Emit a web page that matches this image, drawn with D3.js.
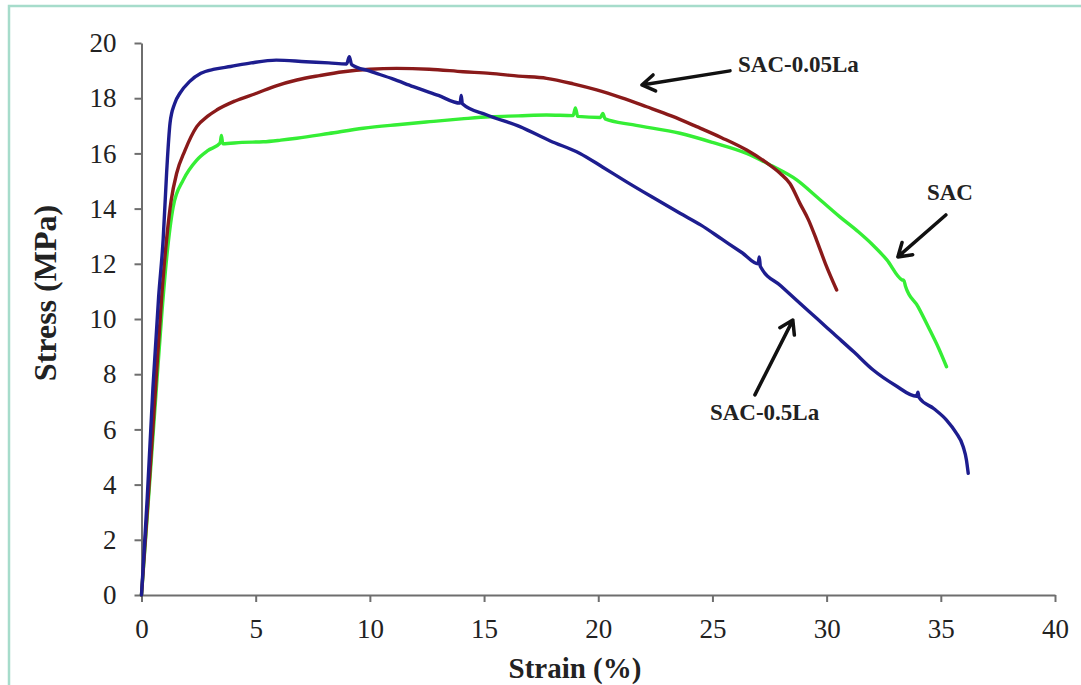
<!DOCTYPE html>
<html><head><meta charset="utf-8">
<script src="https://cdn.jsdelivr.net/npm/d3@7"></script>
<style>
html,body{margin:0;padding:0;background:#fff;}
svg{display:block;}
</style></head>
<body>
<script>
// ---- data ----
const xTicks = [0,5,10,15,20,25,30,35,40];
const yTicks = [0,2,4,6,8,10,12,14,16,18,20];
const xLabel = "Strain (%)";
const yLabel = "Stress (MPa)";

const sac05La = [ // SAC-0.5La (blue)
 [0,0],[0.25,3.5],[0.5,7.5],[0.75,10.8],[0.95,12.9],[1.1,15.3],[1.25,17.1],[1.45,17.8],[1.7,18.2],[2.1,18.6],[2.6,18.9],
 [3.2,19.05],[3.9,19.15],[4.8,19.28],[5.9,19.38],[7.2,19.32],[8.2,19.28],[8.98,19.24],[9.1,19.5],[9.2,19.22],[10.0,18.98],
 [11.0,18.7],[11.9,18.42],[13.0,18.1],[13.95,17.82],[14.0,18.1],[14.05,17.8],[15.1,17.4],[16.57,16.97],[17.9,16.45],[19.2,16.0],
 [20.2,15.5],[21.24,14.97],[22.4,14.4],[23.58,13.83],[24.5,13.4],[25.4,12.9],[26.3,12.4],[27.0,12.0],[27.05,12.25],[27.1,11.9],
 [28.0,11.2],[28.83,10.57],[29.6,10.0],[30.29,9.48],[31.2,8.8],[32.04,8.15],[33.0,7.6],[33.94,7.2],[34.0,7.35],[34.05,7.15],
 [34.7,6.75],[35.25,6.34],[35.65,5.9],[35.98,5.37],[36.12,4.9],[36.2,4.41]
];
const sac005La = [ // SAC-0.05La (dark red)
 [0,0],[0.3,3.6],[0.6,7.3],[0.9,11.0],[1.1,12.9],[1.3,14.3],[1.54,15.28],[1.9,16.1],[2.42,16.97],[2.9,17.35],[3.29,17.57],
 [4.1,17.9],[5.04,18.18],[5.9,18.45],[6.8,18.66],[7.8,18.82],[8.84,18.96],[10.0,19.05],[11.17,19.08],[12.6,19.05],[14.09,18.96],
 [15.26,18.9],[16.5,18.8],[17.74,18.72],[18.9,18.52],[19.93,18.3],[21.0,18.02],[22.12,17.69],[23.2,17.36],[24.31,16.97],
 [25.4,16.57],[26.5,16.12],[27.3,15.7],[27.96,15.28],[28.4,14.9],[28.83,14.19],[29.2,13.6],[29.56,12.86],[29.95,12.0],[30.44,11.05]
];
const sac = [ // SAC (green)
 [0,0],[0.3,3.4],[0.6,6.9],[0.9,10.3],[1.1,12.2],[1.39,14.07],[1.83,15.04],[2.42,15.76],[2.9,16.1],[3.44,16.37],[3.5,16.65],
 [3.56,16.35],[4.4,16.4],[5.33,16.42],[6.1,16.48],[6.8,16.55],[8.2,16.72],[9.71,16.91],[11.2,17.04],[12.63,17.15],[14.0,17.25],
 [15.26,17.33],[16.5,17.36],[17.74,17.39],[18.9,17.37],[19.0,17.65],[19.1,17.34],[20.1,17.3],[20.2,17.45],[20.3,17.25],
 [21.5,17.04],[23.58,16.73],[25.0,16.4],[26.5,16.0],[27.6,15.55],[28.69,15.04],[29.6,14.4],[30.58,13.7],[31.4,13.15],
 [32.0,12.7],[32.63,12.15],[33.3,11.42],[33.38,11.4],[33.45,11.2],[34.0,10.45],[34.52,9.6],[34.9,8.95],[35.25,8.27]
];

const seriesList = [
  {name:"SAC-0.5La", data:sac05La, color:"#1d1d8f"},
  {name:"SAC-0.05La", data:sac005La, color:"#8a1a1a"},
  {name:"SAC", data:sac, color:"#35ee35"}
];

// annotations: label text with arrow (tail -> tip) in data coords
const annoNames = ["SAC-0.05La","SAC","SAC-0.5La"];
const annoTextPos = [[26.12,18.95],[34.39,14.31],[24.89,6.34]];
const annoArrowTail = [[25.77,18.99],[35.22,13.77],[26.86,7.25]];
const annoArrowTip = [[21.91,18.48],[33.12,12.25],[28.52,9.96]];

// ---- drawing ----
const W = 1081, H = 685;
const FONT = '"Liberation Serif"';
const svg = d3.select("body").append("svg").attr("width",W).attr("height",H);

// page border
svg.append("path").attr("d","M9,690 L9,6 L1090,6")
  .attr("fill","none").attr("stroke","#a6dccb").attr("stroke-width",2.5);

const x = d3.scaleLinear().domain([0,40]).range([141.5,1055]);
const y = d3.scaleLinear().domain([0,20]).range([595,43]);

const axisColor = "#6e6e6e";
const gx = svg.append("g").attr("transform",`translate(0,${y(0)})`)
  .call(d3.axisBottom(x).tickValues(xTicks).tickSize(7).tickPadding(17).tickSizeOuter(0));
const gy = svg.append("g").attr("transform",`translate(${x(0)},0)`)
  .call(d3.axisLeft(y).tickValues(yTicks).tickSize(7).tickPadding(18).tickSizeOuter(0));
[gx,gy].forEach(g=>{
  g.select(".domain").attr("stroke",axisColor).attr("stroke-width",2);
  g.selectAll(".tick line").attr("stroke",axisColor).attr("stroke-width",2);
  g.selectAll(".tick text").attr("fill","#222")
    .style("font-family",FONT).style("font-size","27px");
});

const line = d3.line().x(d=>x(d[0])).y(d=>y(d[1])).curve(d3.curveMonotoneX);
seriesList.slice().reverse().forEach(s=>{
  svg.append("path").datum(s.data).attr("d",line)
    .attr("fill","none").attr("stroke",s.color).attr("stroke-width",3.4)
    .attr("stroke-linejoin","round").attr("stroke-linecap","round");
});

// axis titles
svg.append("text").attr("x",575).attr("y",678).attr("text-anchor","middle")
  .style("font-family",FONT).style("font-weight","bold").style("font-size","29px")
  .attr("fill","#222").text(xLabel);
svg.append("text").attr("transform","translate(56,293) rotate(-90)").attr("text-anchor","middle")
  .style("font-family",FONT).style("font-weight","bold").style("font-size","32px")
  .attr("fill","#222").text(yLabel);

// annotations
annoNames.forEach((t,i)=>{
  svg.append("text").attr("x",x(annoTextPos[i][0])).attr("y",y(annoTextPos[i][1]))
    .style("font-family",FONT).style("font-weight","bold").style("font-size","23px")
    .attr("fill","#222").text(t);
  const [x1,y1] = [x(annoArrowTail[i][0]), y(annoArrowTail[i][1])];
  const [x2,y2] = [x(annoArrowTip[i][0]), y(annoArrowTip[i][1])];
  const ang = Math.atan2(y2-y1,x2-x1);
  const hl = 15, ha = Math.PI/5.5;
  const h1 = [x2 - hl*Math.cos(ang-ha), y2 - hl*Math.sin(ang-ha)];
  const h2 = [x2 - hl*Math.cos(ang+ha), y2 - hl*Math.sin(ang+ha)];
  svg.append("path").attr("d",`M${x1},${y1} L${x2},${y2} M${h1[0]},${h1[1]} L${x2},${y2} L${h2[0]},${h2[1]}`)
    .attr("fill","none").attr("stroke","#111").attr("stroke-width",3.5)
    .attr("stroke-linecap","round").attr("stroke-linejoin","round");
});
</script>
</body></html>
